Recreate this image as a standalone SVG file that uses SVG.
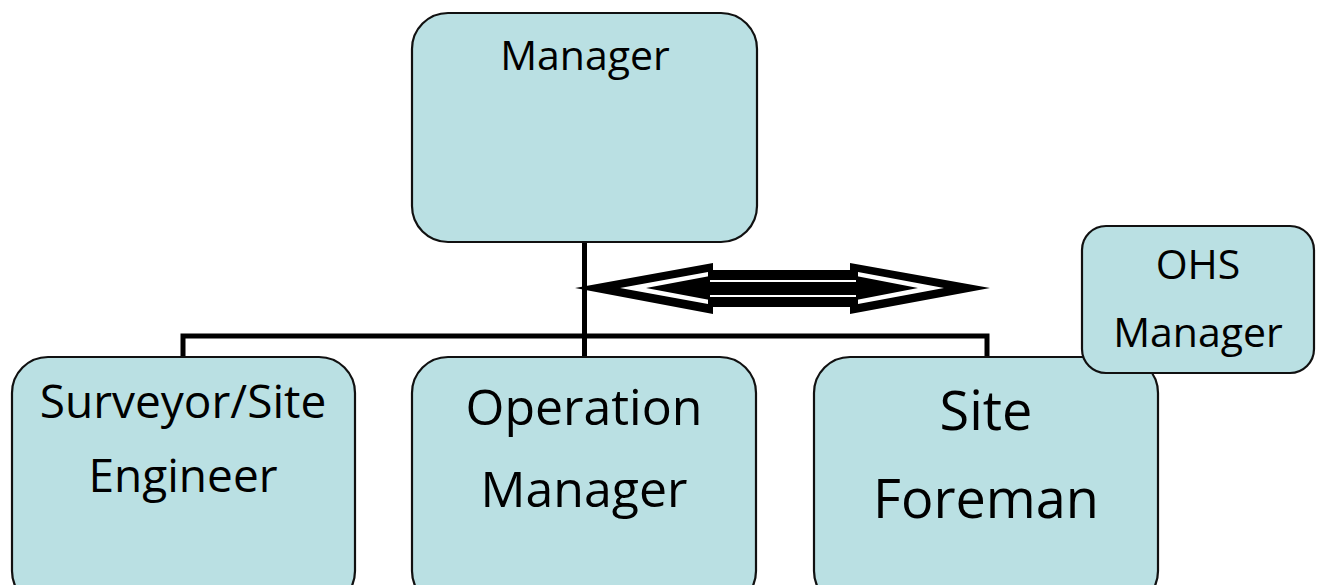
<svg xmlns="http://www.w3.org/2000/svg" width="1318" height="585" viewBox="0 0 1318 585">
<style>
.box{fill:#bae0e3;stroke:#111;stroke-width:2.2}
.t{font-family:"Open Sans","Noto Sans",sans-serif;fill:#000;text-anchor:middle}
.ln{fill:none;stroke:#000;stroke-width:5}
</style>
<rect width="1318" height="585" fill="#fff"/>
<g id="connectors">
<path class="ln" d="M584.5 242 V357 M183 357 V336 H987 V357"/>
<polygon points="575,288 713,263 713,270 850,270 850,263 990,288 850,314 850,307 713,307 713,314" fill="#000"/>
<polygon points="620,288 708,272 708,280 858,280 858,272 944,288 858,304 858,297 708,297 708,304" fill="#fff"/>
<polygon points="646,288 710,276 710,282 856,282 856,276 918,288 856,300 856,295 710,295 710,300" fill="#000"/>
</g>
<g id="manager">
<rect class="box" x="412" y="13" width="345" height="229" rx="36"/>
<text class="t" x="585" y="70" font-size="41">Manager</text>
</g>
<g id="surveyor">
<rect class="box" x="12" y="357" width="343" height="250" rx="36"/>
<text class="t" x="183" y="418" font-size="46">Surveyor/Site</text>
<text class="t" x="183" y="492" font-size="46">Engineer</text>
</g>
<g id="operation">
<rect class="box" x="412" y="357" width="344" height="250" rx="36"/>
<text class="t" x="584" y="425" font-size="50">Operation</text>
<text class="t" x="584" y="507" font-size="50">Manager</text>
</g>
<g id="foreman">
<rect class="box" x="814" y="357" width="344" height="250" rx="36"/>
<text class="t" x="986" y="430" font-size="54">Site</text>
<text class="t" x="986" y="518" font-size="54">Foreman</text>
</g>
<g id="ohs">
<rect class="box" x="1082" y="226" width="232" height="147" rx="24"/>
<text class="t" x="1198" y="279" font-size="41">OHS</text>
<text class="t" x="1198" y="347" font-size="41">Manager</text>
</g>
</svg>
